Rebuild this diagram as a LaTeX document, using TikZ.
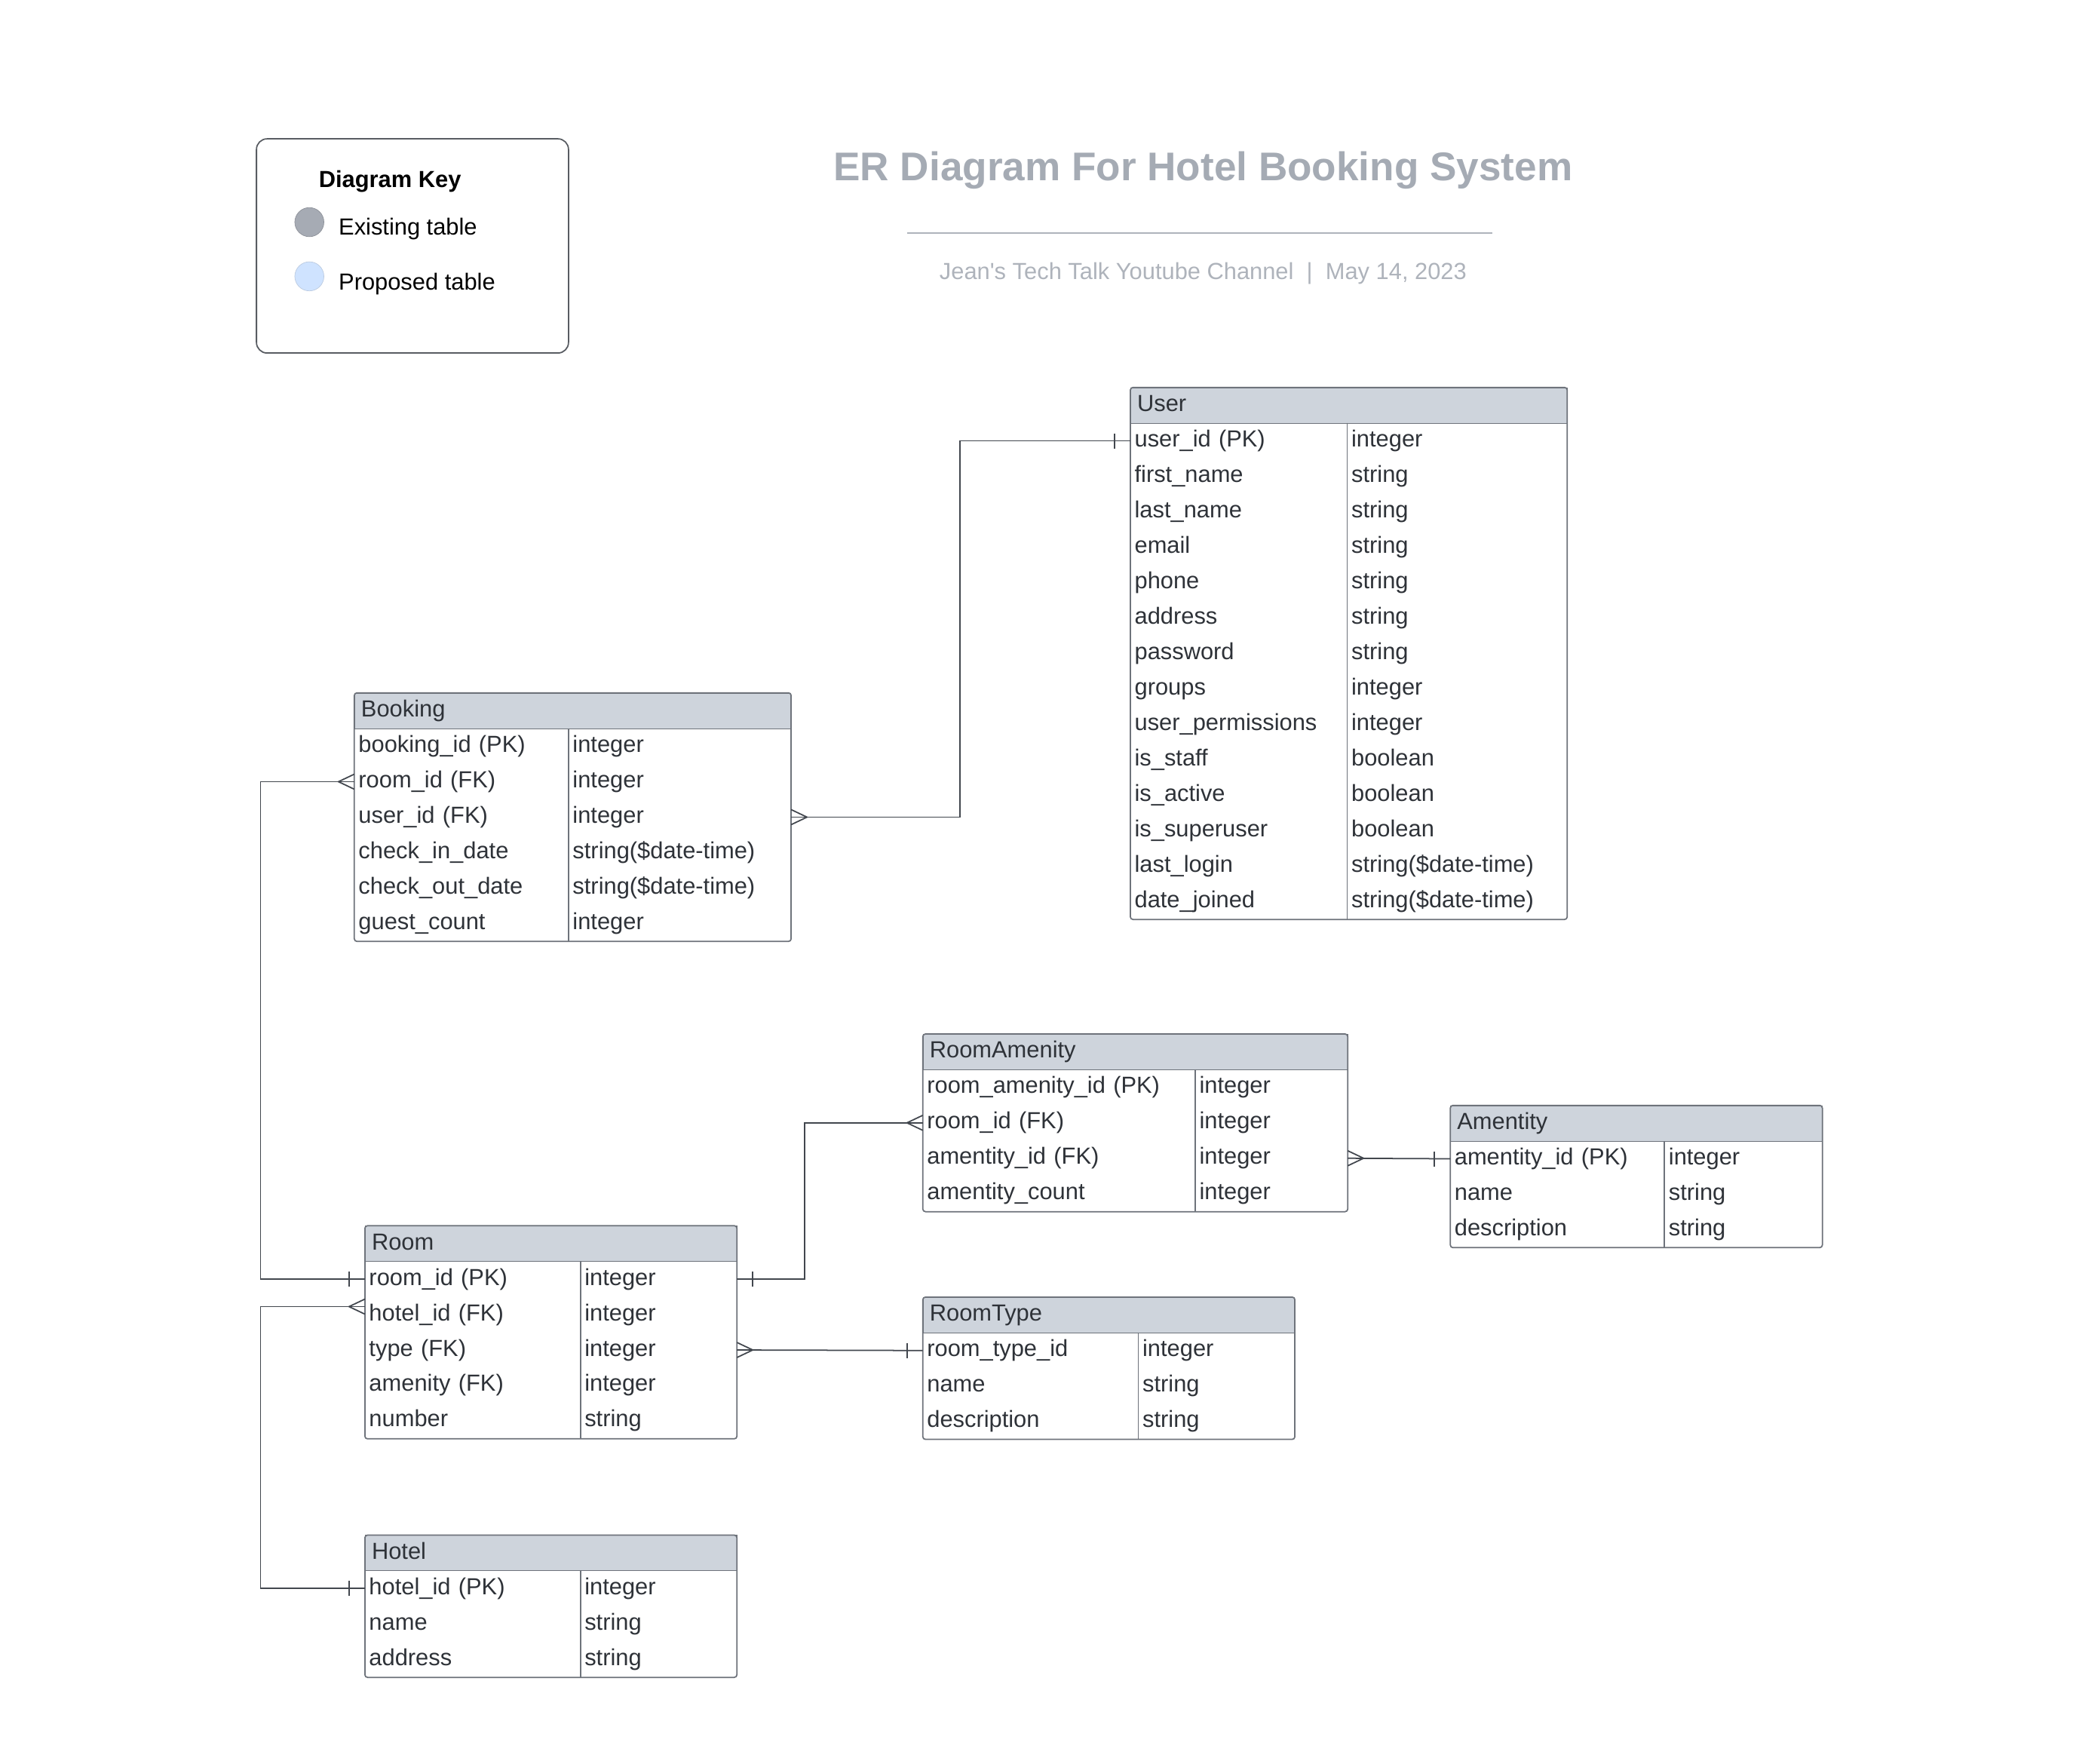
\documentclass[tikz,border=0pt]{standalone}
\usepackage{fontspec}
\setmainfont{Liberation Sans}
\usetikzlibrary{calc}

\definecolor{headfill}{HTML}{CED4DC}
\definecolor{tline}{HTML}{6E737B}
\definecolor{connline}{HTML}{42474E}
\definecolor{txt}{HTML}{2E3238}
\definecolor{titlegray}{HTML}{A5ABB4}
\definecolor{subgray}{HTML}{AEB3BB}
\definecolor{existfill}{HTML}{A6ABB4}
\definecolor{propfill}{HTML}{CFE3FF}

\newcommand\rowfont{\fontsize{17.6}{21}\selectfont}
\newcommand\titlefont{\fontsize{30.3}{36}\selectfont\bfseries}

\begin{document}
\begin{tikzpicture}[x=1pt, y=-1pt,
  head/.style={draw=tline, fill=headfill, anchor=north west, inner xsep=5pt, inner ysep=0pt,
    minimum height=26.8pt, align=left, text height=12.8pt, text depth=3.7pt, font=\rowfont, text=txt},
  cell/.style={anchor=north west, inner xsep=3pt, inner ysep=0pt, minimum height=26.8pt,
    align=left, text height=12.8pt, text depth=3.7pt, font=\rowfont, text=txt},
  tabframe/.style={draw=tline, line width=1pt, rounded corners=2pt},
  divider/.style={draw=tline, line width=1pt},
  conn/.style={draw=connline, line width=1pt},
  onemark/.pic={\draw[conn] (-12,-5.7) -- (-12,5.7);},
  manymark/.pic={\draw[conn] (0,-5.7) -- (-12,0) -- (0,5.7);}]
\useasboundingbox (0,0) rectangle (1568,1333.6);

% key
\node[draw=tline!80!black, line width=1pt, rounded corners=8pt, minimum width=236pt, minimum height=162pt] (key) at (312,186) {};
\node[font=\rowfont\bfseries, text=black] (keytitle) at (295,137) {Diagram Key};
\node[circle, draw=existfill!85!black, fill=existfill, minimum size=22pt, inner sep=0pt] (existing) at (234,168) {};
\node[circle, draw=propfill!75!gray, fill=propfill, minimum size=22pt, inner sep=0pt] (proposed) at (234,209) {};
\node[anchor=west, inner sep=0pt, font=\rowfont, text=black] (existingtxt) at (256,173) {Existing table};
\node[anchor=west, inner sep=0pt, font=\rowfont, text=black] (proposedtxt) at (256,215) {Proposed table};

% title
\node[font=\titlefont, text=titlegray] (title) at (910,129) {ER Diagram For Hotel Booking System};
\coordinate (ruleL) at (686,176);
\coordinate (ruleR) at (1129,176);
\draw[subgray, line width=1.2pt] (ruleL) -- (ruleR);
\node[font=\rowfont, text=subgray] (subtitle) at (910,207) {Jean\textquotesingle s Tech Talk Youtube Channel\ \ |\ \ May 14, 2023};

% User
\node[head, text width=320pt] (user) at (855,293) {User};
\foreach \fld/\typ [count=\i] in {user\_id (PK)/integer, first\_name/string, last\_name/string, email/string,
    phone/string, address/string, password/string, groups/integer, user\_permissions/integer,
    is\_staff/boolean, is\_active/boolean, is\_superuser/boolean, last\_login/string(\$date-time),
    date\_joined/string(\$date-time)} {
  \node[cell, text width=158pt] (user-n\i) at (855,{319.8+(\i-1)*26.8}) {\fld};
  \node[cell, text width=160pt] (user-t\i) at (1019,{319.8+(\i-1)*26.8}) {\typ};
}
\draw[divider] (user-t1.north west) -- (user-t14.south west);
\draw[tabframe] (user.north west) rectangle (user-t14.south east);

% Booking
\node[head, text width=320pt] (booking) at (268,524) {Booking};
\foreach \fld/\typ [count=\i] in {booking\_id (PK)/integer, room\_id (FK)/integer, user\_id (FK)/integer,
    check\_in\_date/string(\$date-time), check\_out\_date/string(\$date-time), guest\_count/integer} {
  \node[cell, text width=156pt] (booking-n\i) at (268,{550.8+(\i-1)*26.8}) {\fld};
  \node[cell, text width=162pt] (booking-t\i) at (430,{550.8+(\i-1)*26.8}) {\typ};
}
\draw[divider] (booking-t1.north west) -- (booking-t6.south west);
\draw[tabframe] (booking.north west) rectangle (booking-t6.south east);

% RoomAmenity
\node[head, text width=311pt] (ra) at (698,782) {RoomAmenity};
\foreach \fld/\typ [count=\i] in {room\_amenity\_id (PK)/integer, room\_id (FK)/integer,
    amentity\_id (FK)/integer, amentity\_count/integer} {
  \node[cell, text width=200pt] (ra-n\i) at (698,{808.8+(\i-1)*26.8}) {\fld};
  \node[cell, text width=109pt] (ra-t\i) at (904,{808.8+(\i-1)*26.8}) {\typ};
}
\draw[divider] (ra-t1.north west) -- (ra-t4.south west);
\draw[tabframe] (ra.north west) rectangle (ra-t4.south east);

% Amentity
\node[head, text width=271pt] (am) at (1097,836) {Amentity};
\foreach \fld/\typ [count=\i] in {amentity\_id (PK)/integer, name/string, description/string} {
  \node[cell, text width=156pt] (am-n\i) at (1097,{862.8+(\i-1)*26.8}) {\fld};
  \node[cell, text width=113pt] (am-t\i) at (1259,{862.8+(\i-1)*26.8}) {\typ};
}
\draw[divider] (am-t1.north west) -- (am-t3.south west);
\draw[tabframe] (am.north west) rectangle (am-t3.south east);

% Room
\node[head, text width=271pt] (room) at (276,927) {Room};
\foreach \fld/\typ [count=\i] in {room\_id (PK)/integer, hotel\_id (FK)/integer, type (FK)/integer,
    amenity (FK)/integer, number/string} {
  \node[cell, text width=157pt] (room-n\i) at (276,{953.8+(\i-1)*26.8}) {\fld};
  \node[cell, text width=112pt] (room-t\i) at (439,{953.8+(\i-1)*26.8}) {\typ};
}
\draw[divider] (room-t1.north west) -- (room-t5.south west);
\draw[tabframe] (room.north west) rectangle (room-t5.south east);

% RoomType
\node[head, text width=271pt] (rt) at (698,981) {RoomType};
\foreach \fld/\typ [count=\i] in {room\_type\_id/integer, name/string, description/string} {
  \node[cell, text width=157pt] (rt-n\i) at (698,{1007.8+(\i-1)*26.8}) {\fld};
  \node[cell, text width=112pt] (rt-t\i) at (861,{1007.8+(\i-1)*26.8}) {\typ};
}
\draw[divider] (rt-t1.north west) -- (rt-t3.south west);
\draw[tabframe] (rt.north west) rectangle (rt-t3.south east);

% Hotel
\node[head, text width=271pt] (hotel) at (276,1161) {Hotel};
\foreach \fld/\typ [count=\i] in {hotel\_id (PK)/integer, name/string, address/string} {
  \node[cell, text width=157pt] (hotel-n\i) at (276,{1187.8+(\i-1)*26.8}) {\fld};
  \node[cell, text width=112pt] (hotel-t\i) at (439,{1187.8+(\i-1)*26.8}) {\typ};
}
\draw[divider] (hotel-t1.north west) -- (hotel-t3.south west);
\draw[tabframe] (hotel.north west) rectangle (hotel-t3.south east);

% relations
\coordinate (hotelfk) at ($(room-n2.west)+(0,-6)$);
\path[conn] (user-n1.west) -- ++(-129,0) |- (booking-t3.east);
\path[conn] (booking-n2.west) -- ++(-71,0) |- (room-n1.west);
\path[conn] (hotelfk) -- ++(-79,0) |- (hotel-n1.west);
\path[conn] (room-t1.east) -- ++(51,0) |- (ra-n2.west);
\path[conn] (ra-t3.east) -- (am-n1.west);
\path[conn] (room-t3.east) -- (rt-n1.west);

\pic at (user-n1.west) {onemark};
\pic[rotate=180] at (booking-t3.east) {manymark};
\pic at (booking-n2.west) {manymark};
\pic at (room-n1.west) {onemark};
\pic at (hotelfk) {manymark};
\pic at (hotel-n1.west) {onemark};
\pic[rotate=180] at (room-t1.east) {onemark};
\pic at (ra-n2.west) {manymark};
\pic[rotate=180] at (ra-t3.east) {manymark};
\pic at (am-n1.west) {onemark};
\pic[rotate=180] at (room-t3.east) {manymark};
\pic at (rt-n1.west) {onemark};
\end{tikzpicture}
\end{document}
